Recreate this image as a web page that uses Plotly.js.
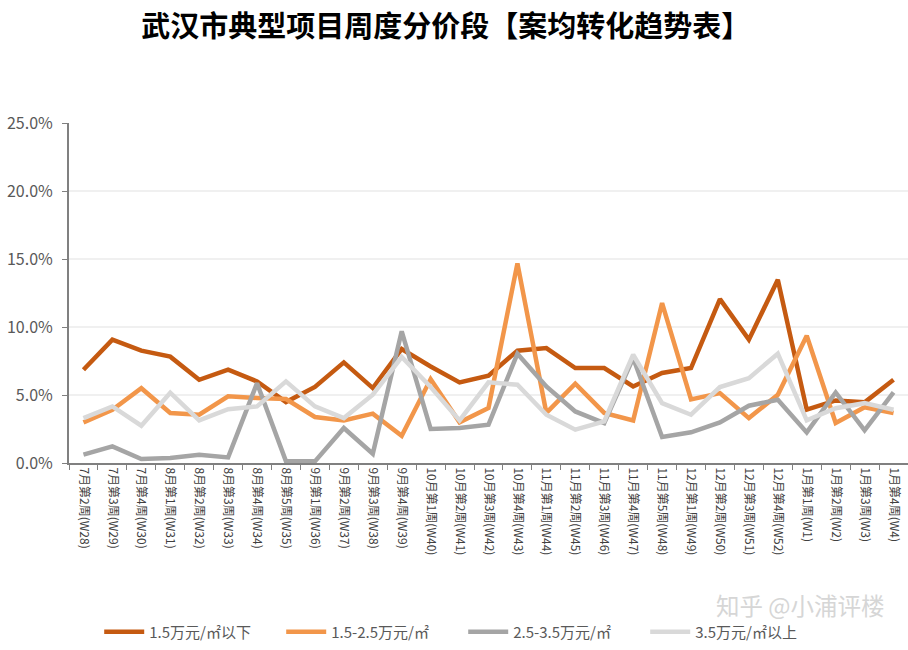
<!DOCTYPE html>
<html>
<head>
<meta charset="utf-8">
<script src="https://cdn.plot.ly/plotly-3.0.1.min.js"></script>
<style>html,body{margin:0;padding:0;background:#fff;}#chart{width:908px;height:650px;}</style>
</head>
<body>
<div id="chart"></div>
<script>
const categories = ["7月第2周(W28)","7月第3周(W29)","7月第4周(W30)","8月第1周(W31)","8月第2周(W32)","8月第3周(W33)","8月第4周(W34)","8月第5周(W35)","9月第1周(W36)","9月第2周(W37)","9月第3周(W38)","9月第4周(W39)","10月第1周(W40)","10月第2周(W41)","10月第3周(W42)","10月第4周(W43)","11月第1周(W44)","11月第2周(W45)","11月第3周(W46)","11月第4周(W47)","11月第5周(W48)","12月第1周(W49)","12月第2周(W50)","12月第3周(W51)","12月第4周(W52)","1月第1周(W1)","1月第2周(W2)","1月第3周(W3)","1月第4周(W4)"];

const seriesNames = ["1.5万元/㎡以下","1.5-2.5万元/㎡","2.5-3.5万元/㎡","3.5万元/㎡以上"];

// values in percent
const below15 = [6.86,9.07,8.26,7.82,6.12,6.86,6.0,4.48,5.59,7.4,5.51,8.38,7.1,5.93,6.42,8.26,8.45,6.98,6.98,5.63,6.62,6.98,12.05,9.07,13.48,3.92,4.6,4.46,6.12];
const from15to25 = [2.99,3.92,5.5,3.68,3.55,4.9,4.78,4.7,3.38,3.13,3.63,2.0,6.17,2.99,4.04,14.68,3.68,5.83,3.68,3.13,11.76,4.68,5.14,3.3,5.02,9.36,2.94,4.1,3.68];
const from25to35 = [0.61,1.22,0.29,0.37,0.61,0.41,5.87,0.12,0.12,2.57,0.68,9.68,2.5,2.57,2.82,8.04,5.63,3.79,2.94,7.72,1.91,2.26,2.99,4.21,4.65,2.25,5.19,2.4,5.19];
const above35 = [3.3,4.16,2.74,5.17,3.13,3.96,4.16,6.0,4.16,3.3,5.02,7.79,5.59,3.13,5.93,5.76,3.55,2.45,3.06,7.96,4.4,3.55,5.58,6.24,8.04,3.13,4.03,4.4,3.92];

const colors = ["#C55A11","#F2964A","#A5A5A5","#D9D9D9"];
const allSeries = [below15, from15to25, from25to35, above35];

const traces = allSeries.map((vals, i) => ({
  type: "scatter",
  mode: "lines",
  name: seriesNames[i],
  x: categories,
  y: vals,
  line: {color: colors[i], width: 4.5, shape: "linear"},
  hoverinfo: "x+y+name"
}));

const cjk = "'Noto Sans CJK SC', 'Noto Sans', sans-serif";

const layout = {
  width: 908,
  height: 650,
  paper_bgcolor: "#ffffff",
  plot_bgcolor: "#ffffff",
  margin: {l: 69, r: 0, t: 123, b: 187, autoexpand: false},
  font: {family: cjk, color: "#595959"},
  title: {
    text: "<b>武汉市典型项目周度分价段【案均转化趋势表】</b>",
    font: {family: cjk, size: 29, color: "#000000"},
    x: 0.449, xanchor: "center", xref: "paper",
    y: 0.958, yanchor: "middle", yref: "container"
  },
  xaxis: {
    type: "category",
    tickson: "boundaries",
    ticks: "outside",
    ticklen: 5,
    tickcolor: "#808080",
    tickwidth: 1,
    showline: true,
    linecolor: "#808080",
    linewidth: 2,
    showgrid: false,
    tickangle: 90,
    automargin: false,
    tickfont: {family: cjk, size: 12, color: "#404040"},
    range: [-0.5, categories.length - 0.5],
    fixedrange: true
  },
  yaxis: {
    range: [0, 25],
    dtick: 5,
    tick0: 0,
    tickformat: ".1f",
    ticksuffix: "%",
    ticks: "outside",
    ticklen: 5,
    tickcolor: "#808080",
    ticklabelstandoff: 6,
    showline: true,
    linecolor: "#808080",
    linewidth: 2,
    showgrid: true,
    gridcolor: "#F0F0F0",
    gridwidth: 1.5,
    zeroline: false,
    automargin: false,
    tickfont: {family: cjk, size: 16, color: "#595959"},
    fixedrange: true
  },
  showlegend: true,
  legend: {
    orientation: "h",
    x: 0.036, xanchor: "left",
    y: -0.497, yanchor: "middle",
    entrywidth: 127,
    entrywidthmode: "pixels",
    font: {family: cjk, size: 15, color: "#595959"},
    itemwidth: 40,
    bgcolor: "rgba(0,0,0,0)"
  },
  annotations: [{
    text: "知乎 @小浦评楼",
    xref: "paper", yref: "paper",
    x: 0.975, y: -0.418, xanchor: "right", yanchor: "middle",
    showarrow: false,
    font: {family: cjk, size: 23.5, color: "#D6D6D6"}
  }]
};

Plotly.newPlot("chart", traces, layout, {displayModeBar: false, staticPlot: true});
</script>
</body>
</html>
